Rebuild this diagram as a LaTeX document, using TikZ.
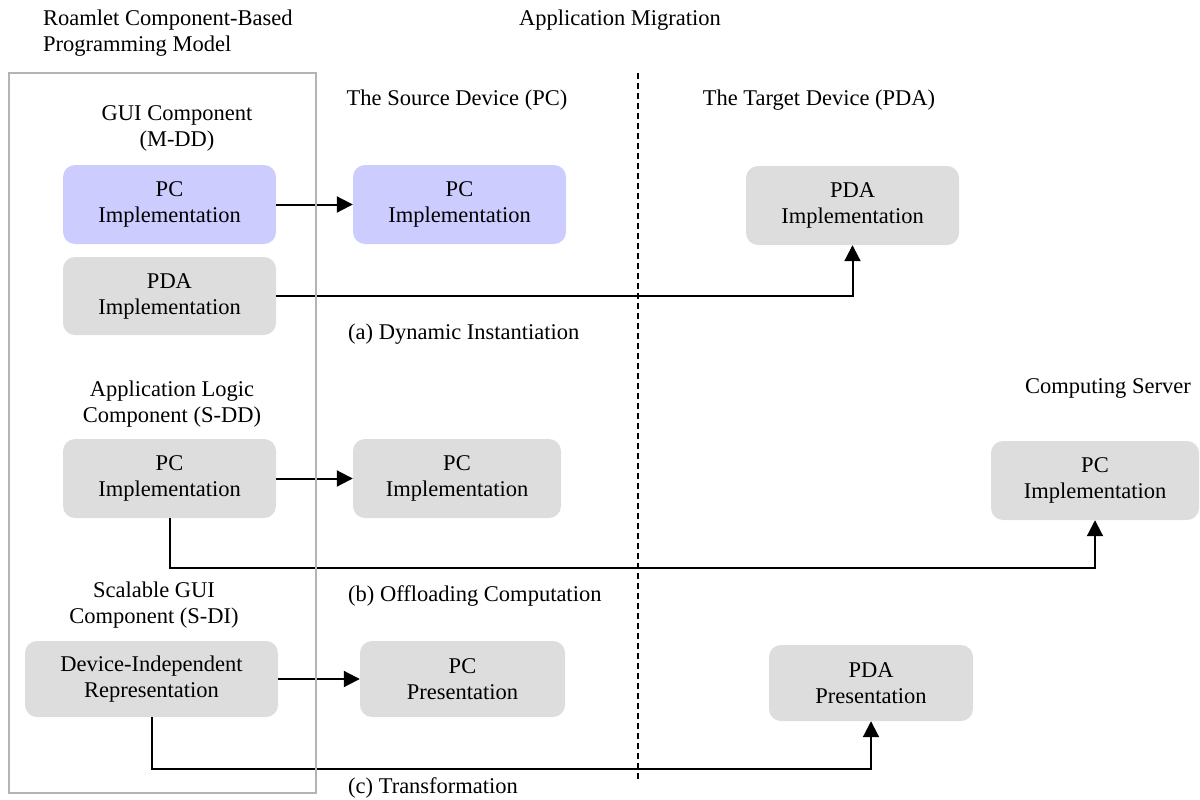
\documentclass[tikz,border=0pt]{standalone}
\usepackage{fontspec}
\setmainfont{Liberation Serif}
\usetikzlibrary{arrows.meta}
\definecolor{boxblue}{HTML}{CCCCFF}
\definecolor{boxgray}{HTML}{DDDDDD}
\definecolor{framegray}{HTML}{B4B4B4}
\begin{document}
\begin{tikzpicture}[x=1pt,y=-1pt,
  every node/.style={font=\fontsize{22.5}{26}\selectfont, inner sep=0pt, align=center},
  comp/.style={rectangle, rounded corners=12pt, minimum height=78pt, fill=boxgray},
  bluecomp/.style={comp, fill=boxblue},
  label/.style={anchor=center},
  caption/.style={anchor=west},
  arr/.style={line width=2pt, -{Triangle[length=16pt,width=16pt]}},
  frame/.style={draw=framegray, line width=2pt},
  divider/.style={line width=2pt, dash pattern=on 6pt off 4pt}
]
\useasboundingbox (0,0) rectangle (1200,800);

% headings
\node[anchor=west, align=left] (hmodel) at (43,33) {Roamlet Component-Based\\Programming Model};
\node[label] (hmig) at (620,20) {Application Migration};
\node[label] (hsrc) at (457,100) {The Source Device (PC)};
\node[label] (htgt) at (819,100) {The Target Device (PDA)};
\node[label] (hsrv) at (1108,388) {Computing Server};

% component titles
\node[label] (tgui) at (177,128) {GUI Component\\(M-DD)};
\node[label] (tlogic) at (172,404) {Application Logic\\Component (S-DD)};
\node[label] (tsdi) at (154,605) {Scalable GUI\\Component (S-DI)};

% captions
\node[caption] (ca) at (348,334) {(a) Dynamic Instantiation};
\node[caption] (cb) at (348,596) {(b) Offloading Computation};
\node[caption] (cc) at (348,788) {(c) Transformation};

% row (a)
\node[bluecomp, minimum width=213pt, minimum height=79pt] (b1) at (169.5,204.5) {PC\\Implementation};
\node[bluecomp, minimum width=213pt, minimum height=79pt] (b2) at (459.5,204.5) {PC\\Implementation};
\node[comp, minimum width=213pt] (p1) at (169.5,296) {PDA\\Implementation};
\node[comp, minimum width=213pt, minimum height=79pt] (p2) at (852.5,205.5) {PDA\\Implementation};

% row (b)
\node[comp, minimum width=213pt, minimum height=79pt] (m1) at (169.5,478.5) {PC\\Implementation};
\node[comp, minimum width=208pt, minimum height=79pt] (m2) at (457,478.5) {PC\\Implementation};
\node[comp, minimum width=208pt, minimum height=79pt] (s1) at (1095,480.5) {PC\\Implementation};

% row (c)
\node[comp, minimum width=253pt, minimum height=76pt] (d1) at (151.5,679) {Device-Independent\\Representation};
\node[comp, minimum width=205pt, minimum height=76pt] (pc) at (462.5,679) {PC\\Presentation};
\node[comp, minimum width=204pt, minimum height=76pt] (pp) at (871,683) {PDA\\Presentation};

% connectors
\draw[arr] (b1) -- (b2);
\draw[arr] (p1.east) -| (p2.south);
\draw[arr] (m1) -- (m2);
\draw[arr] (m1.south) -- ++(0,50) -| (s1.south);
\draw[arr] (d1) -- (pc);
\draw[arr] (d1.south) -- ++(0,52) -| (pp.south);

% frame and divider
\draw[frame] (9,73) rectangle (316,793);
\coordinate (dtop) at (638,73);
\coordinate (dbot) at (638,780);
\draw[divider] (dtop) -- (dbot);
\end{tikzpicture}
\end{document}
